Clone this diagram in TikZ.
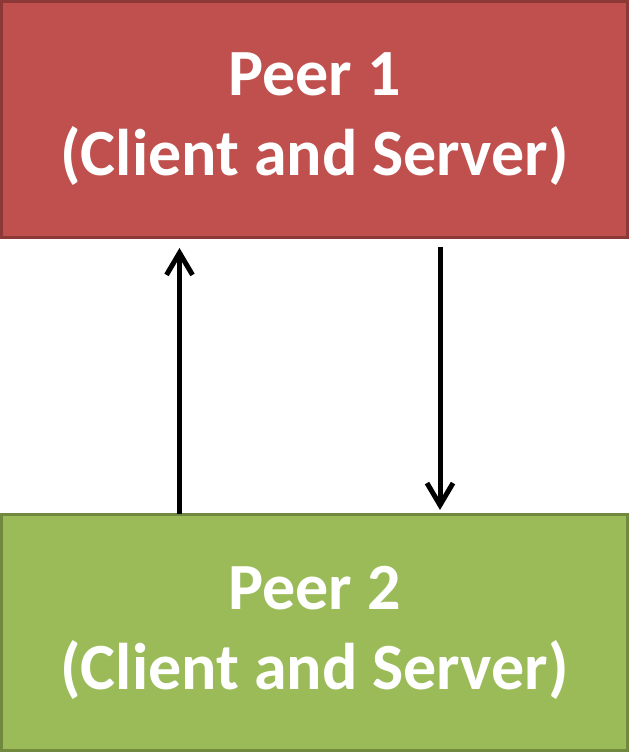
\documentclass[tikz,border=0pt]{standalone}
\usepackage{fontspec}
\setmainfont{Carlito}
\usepackage{xcolor}
\usepackage{tikz}
\usetikzlibrary{calc}
\usetikzlibrary{positioning}
\usetikzlibrary{arrows.meta}
\definecolor{peerred}{HTML}{C0504D}
\definecolor{peerreddark}{HTML}{8C3836}
\definecolor{peergreen}{HTML}{9BBB59}
\definecolor{peergreendark}{HTML}{71893F}
\tikzset{
  myarrow/.style={
    draw=black,
    line width=5pt,
    -{Straight Barb[length=22pt,width=26pt,line width=5pt]},
  },
  mypeer/.style={
    shape=rectangle,
    line width=3pt,
    align=center,
    inner sep=0pt,
    minimum width=626pt,
    minimum height=236pt,
    text=white,
    font=\fontsize{66}{80}\selectfont\bfseries
  },
}

\begin{document}
\begin{tikzpicture}[auto, x=1pt, y=1pt]
    \useasboundingbox (0,0) rectangle (629,752);
    \node[mypeer, fill=peerred, draw=peerreddark] (P1) at (314.5, 632.5) {Peer 1\\(Client and Server)};
    \node[mypeer, fill=peergreen, draw=peergreendark] (P2) at (314.5, 119.5) {Peer 2\\(Client and Server)};

    \coordinate (up) at (179.5, 376);
    \coordinate (down) at (440, 376);

    \draw [myarrow, shorten <=-1.5pt, shorten >=9pt] (P2.north -| up) -- (P1.south -| up);
    \draw [myarrow, shorten <=8.5pt, shorten >=3pt] (P1.south -| down) -- (P2.north -| down);
  \end{tikzpicture}
\end{document}
